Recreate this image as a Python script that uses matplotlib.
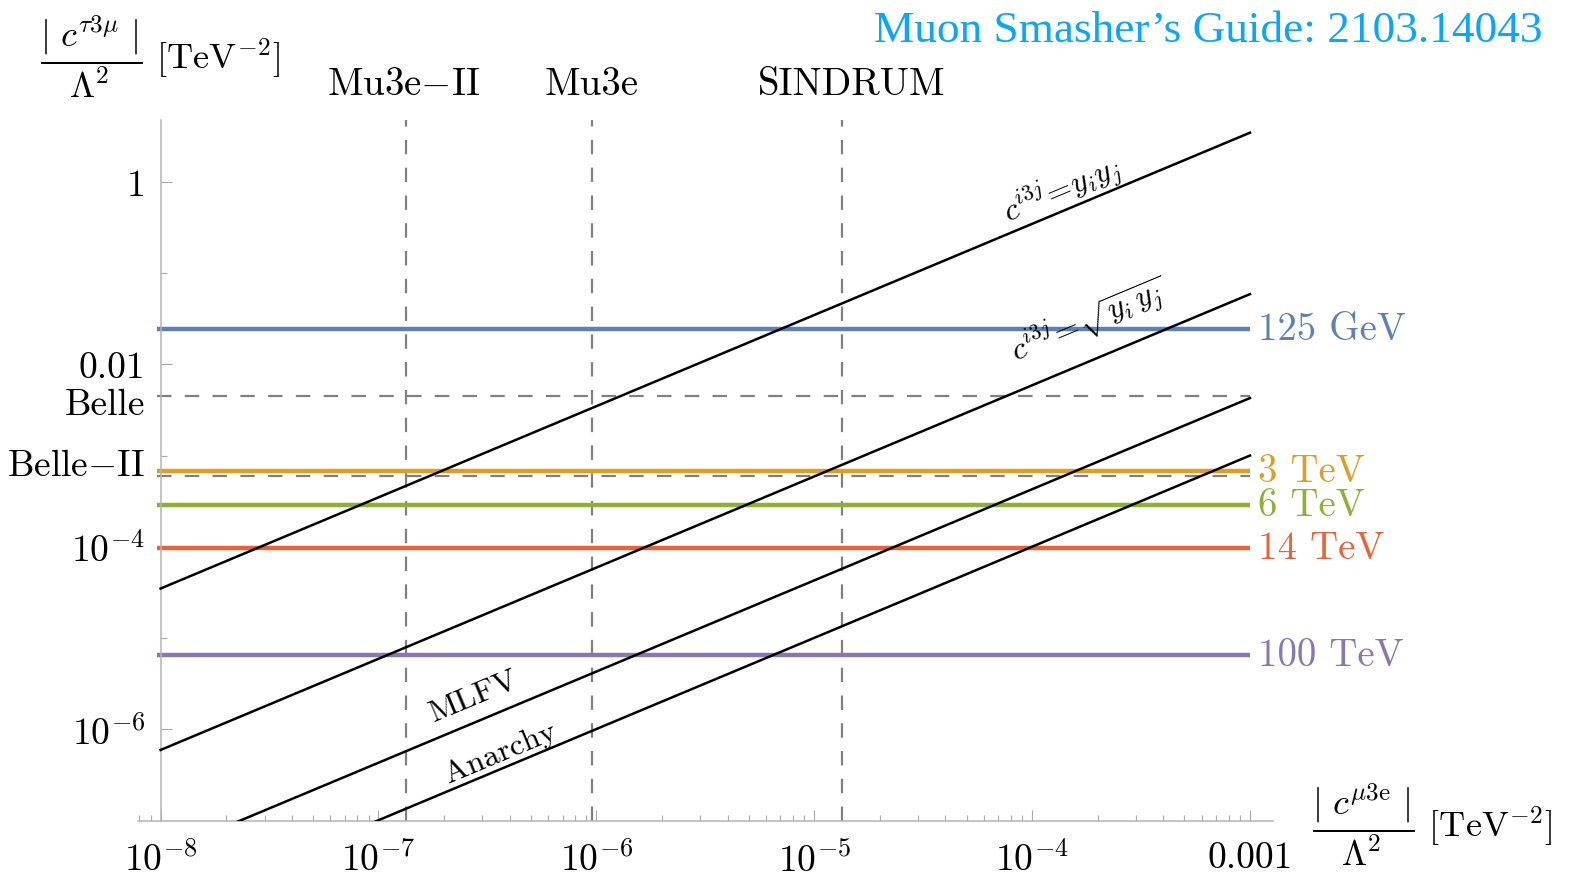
import numpy as np
import matplotlib
matplotlib.use('Agg')
import matplotlib.pyplot as plt
from matplotlib.transforms import blended_transform_factory

plt.rcParams['font.family'] = ['cmr10', 'DejaVu Serif']
plt.rcParams['mathtext.fontset'] = 'cm'
plt.rcParams['axes.unicode_minus'] = False

# collider reach, |c| / Lambda^2 in TeV^-2
collider_labels = ['125 GeV', '3 TeV', '6 TeV', '14 TeV', '100 TeV']
collider_reach = [2.44e-2, 6.8e-4, 2.87e-4, 9.6e-5, 6.5e-6]
collider_colors = ['#5e81b5', '#e19c24', '#8fb032', '#eb6235', '#8778b3']

# tau -> 3 mu limits (horizontal dashed)
tau_labels = ['Belle', 'Belle$-$II']
tau_limits = [4.5e-3, 5.9e-4]

# mu -> 3 e limits (vertical dashed)
mu_labels = ['Mu3e$-$II', 'Mu3e', 'SINDRUM']
mu_limits = [1.34e-7, 9.5e-7, 1.34e-5]

# flavour scenarios: c_tau3mu = ratio * c_mu3e
scen_labels = [r'$c^{i3j}\!=\!y_i y_j$', r'$c^{i3j}\!=\!\sqrt{y_i\,y_j}$',
               'MLFV', 'Anarchy']
scen_ratio = [3477., 58.97, 4.27, 1.0]

x_ticks = [1e-8, 1e-7, 1e-6, 1e-5, 1e-4, 1e-3]
x_ticklabels = [r'$10^{-8}$', r'$10^{-7}$', r'$10^{-6}$', r'$10^{-5}$',
                r'$10^{-4}$', '0.001']
y_ticks = [1., 1e-2, 1e-4, 1e-6]
y_ticklabels = ['1', '0.01', r'$10^{-4}$', r'$10^{-6}$']

FS = 27
FL = 28

fig = plt.figure(figsize=(15.94, 8.79), dpi=100)
ax = fig.add_axes([0.0864, 0.0645, 0.7120, 0.7978])
ax.set_xscale('log')
ax.set_yscale('log')
ax.set_xlim(10**-8.105, 10**-2.896)
ax.set_ylim(10**-7.012, 10**0.68)

for s in ['top', 'right']:
    ax.spines[s].set_visible(False)
ax.spines['left'].set_position(('data', 1e-8))
for s in ['left', 'bottom']:
    ax.spines[s].set_color('#b4b4b4')
    ax.spines[s].set_linewidth(1.1)

ax.set_xticks(x_ticks)
ax.set_xticklabels(x_ticklabels, fontsize=FS)
ax.set_yticks(y_ticks)
ax.set_yticklabels(y_ticklabels, fontsize=FS)
ax.xaxis.set_minor_locator(matplotlib.ticker.LogLocator(base=10, subs=np.arange(2, 10)))
ax.yaxis.set_minor_locator(matplotlib.ticker.FixedLocator([1e-1, 1e-3, 1e-5]))
ax.yaxis.set_minor_formatter(matplotlib.ticker.NullFormatter())
ax.xaxis.set_minor_formatter(matplotlib.ticker.NullFormatter())
ax.tick_params(which='both', direction='in', color='#a8a8a8', width=0.8)
ax.tick_params(which='major', length=8)
ax.tick_params(which='minor', length=4)
ax.tick_params(axis='x', which='major', pad=14)
ax.tick_params(axis='y', which='major', pad=11)

dash = (0, (6.5, 6))
xs = np.array([10**-8.016, 1e-3])

# dashed experimental limits
for lim in tau_limits:
    ax.plot(xs, [lim, lim], color='#808080', lw=1.6, ls=dash, zorder=1)
for lim in mu_limits:
    ax.plot([lim, lim], [10**-7.012, 10**0.68], color='#808080', lw=1.6,
            ls=dash, zorder=1, clip_on=False)

# collider reach lines
for lab, val, col in zip(collider_labels, collider_reach, collider_colors):
    ax.plot(xs, [val, val], color=col, lw=3.2, solid_capstyle='butt', zorder=2)
    ax.annotate(lab, xy=(1e-3, val), xytext=(6, 0), textcoords='offset points',
                ha='left', va='center', color=col, fontsize=FL,
                annotation_clip=False)

# scenario lines
xl = np.array([1e-8, 1e-3])
for r in scen_ratio:
    ax.plot(xl, r * xl, color='black', lw=1.8, zorder=3)

ang = np.degrees(np.arctan2(91.17, 217.8))
lab_x = [10**-3.861, 10**-3.737, 10**-6.561, 10**-6.441]
lab_dy = [16, 29, 20, 12]
for lab, r, x0, dy in zip(scen_labels, scen_ratio, lab_x, lab_dy):
    ax.annotate(lab, xy=(x0, r * x0), xytext=(0, dy), textcoords='offset points',
                ha='center', va='center', rotation=ang, rotation_mode='anchor',
                fontsize=23, zorder=4)

# limit labels
for lab, val, dy in zip(tau_labels, tau_limits, [-6, 8]):
    ax.annotate(lab, xy=(1e-8, val), xytext=(-11, dy), textcoords='offset points',
                ha='right', va='center', fontsize=FS, annotation_clip=False)
for lab, val, dx in zip(mu_labels, mu_limits, [-2, 0, 7]):
    ax.annotate(lab, xy=(val, 1.0), xycoords=('data', 'axes fraction'),
                xytext=(dx, 26), textcoords='offset points',
                ha='center', va='center', fontsize=FL, annotation_clip=False)

# axis labels
fig.text(0.1004, 0.935, r'$\dfrac{|\ c^{\tau 3\mu}\ |}{\Lambda^2}$ [TeV$^{-2}$]',
         ha='center', va='center', fontsize=FS - 1)
fig.text(0.8984, 0.0614, r'$\dfrac{|\ c^{\mu 3\mathrm{e}}\ |}{\Lambda^2}$ [TeV$^{-2}$]',
         ha='center', va='center', fontsize=FS - 1)

fig.text(0.968, 0.965, 'Muon Smasher\u2019s Guide: 2103.14043', ha='right',
         va='center', color='#0aa5ff', fontsize=32.6,
         family=['Liberation Serif', 'DejaVu Serif'])

fig.savefig('out.png', dpi=100)
